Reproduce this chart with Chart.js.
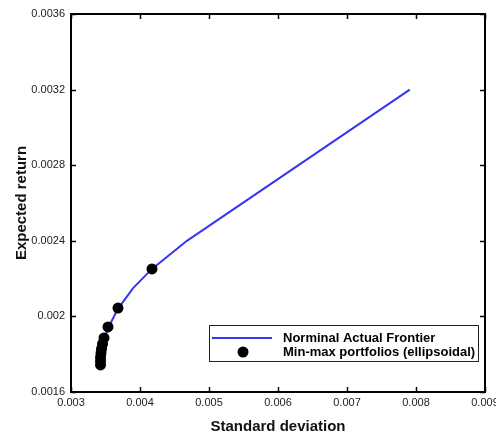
<!DOCTYPE html>
<html>
<head>
<meta charset="utf-8">
<script src="https://cdn.jsdelivr.net/npm/chart.js@4/dist/chart.umd.min.js"></script>
<style>
  html, body { margin: 0; padding: 0; background: #fff; }
  #wrap { width: 496px; height: 436px; }
</style>
</head>
<body>
<div id="wrap"><canvas id="chart"></canvas></div>
<script>
const frontierX = [0.00343, 0.00348, 0.00354, 0.00368, 0.0039, 0.00417, 0.00468, 0.00791]
const frontierY = [0.00175, 0.00188, 0.00194, 0.00204, 0.00215, 0.00225, 0.00240, 0.00320]

const minmaxX = [0.004174, 0.003681, 0.003536, 0.003478, 0.003457, 0.003442, 0.003435, 0.003428, 0.003428, 0.003428]
const minmaxY = [0.002251, 0.002044, 0.001944, 0.001886, 0.001854, 0.001828, 0.001806, 0.001785, 0.001764, 0.001743]

const xTicks = [0.003, 0.004, 0.005, 0.006, 0.007, 0.008, 0.009]
const xTickLabels = ['0.003', '0.004', '0.005', '0.006', '0.007', '0.008', '0.009']
const yTicks = [0.0016, 0.002, 0.0024, 0.0028, 0.0032, 0.0036]
const yTickLabels = ['0.0016', '0.002', '0.0024', '0.0028', '0.0032', '0.0036']

const seriesNames = ['Norminal Actual Frontier', 'Min-max portfolios (ellipsoidal)']
const lineColor = '#3535f5'

// frame + inward ticks on all four sides
const framePlugin = {
  id: 'frame',
  afterDatasetsDraw(chart) {
    const {ctx, chartArea: a, scales} = chart
    ctx.save()
    ctx.strokeStyle = '#000'
    ctx.lineWidth = 1.5
    ctx.beginPath()
    xTicks.forEach(v => {
      const px = Math.round(scales.x.getPixelForValue(v)) + 0.5
      ctx.moveTo(px, a.bottom); ctx.lineTo(px, a.bottom - 5)
      ctx.moveTo(px, a.top); ctx.lineTo(px, a.top + 5)
    })
    yTicks.forEach(v => {
      const py = Math.round(scales.y.getPixelForValue(v)) + 0.5
      ctx.moveTo(a.left, py); ctx.lineTo(a.left + 5, py)
      ctx.moveTo(a.right, py); ctx.lineTo(a.right - 5, py)
    })
    ctx.stroke()
    ctx.lineWidth = 2
    ctx.strokeRect(a.left, a.top, a.right - a.left, a.bottom - a.top)
    ctx.restore()
  }
}

// boxed legend in the lower right of the plot
const legendPlugin = {
  id: 'boxLegend',
  afterDraw(chart) {
    const {ctx, chartArea: a} = chart
    const right = a.right - 7
    const left = right - 269
    const top = a.bottom - 67
    const bottom = a.bottom - 31
    ctx.save()
    ctx.fillStyle = '#fff'
    ctx.fillRect(left, top, right - left, bottom - top)
    ctx.strokeStyle = '#222'
    ctx.lineWidth = 1
    ctx.strokeRect(left + 0.5, top + 0.5, right - left, bottom - top)

    ctx.strokeStyle = lineColor
    ctx.lineWidth = 2
    ctx.beginPath()
    ctx.moveTo(left + 3, top + 13)
    ctx.lineTo(left + 63, top + 13)
    ctx.stroke()

    ctx.fillStyle = '#000'
    ctx.beginPath()
    ctx.arc(left + 34, top + 27, 5.5, 0, Math.PI * 2)
    ctx.fill()

    ctx.font = 'bold 13px "Liberation Sans", Arial, sans-serif'
    ctx.textBaseline = 'middle'
    ctx.fillText(seriesNames[0], left + 74, top + 13)
    ctx.fillText(seriesNames[1], left + 74, top + 27)
    ctx.restore()
  }
}

const tickFont = {family: '"Liberation Sans", Arial, sans-serif', size: 11}
const titleFont = {family: '"Liberation Sans", Arial, sans-serif', size: 15, weight: 'bold'}

new Chart(document.getElementById('chart').getContext('2d'), {
  type: 'scatter',
  data: {
    datasets: [
      {
        label: seriesNames[1],
        data: minmaxX.map((x, i) => ({x: x, y: minmaxY[i]})),
        pointRadius: 5.5,
        pointBackgroundColor: '#000',
        pointBorderWidth: 0,
        showLine: false,
        order: 0
      },
      {
        label: seriesNames[0],
        data: frontierX.map((x, i) => ({x: x, y: frontierY[i]})),
        showLine: true,
        borderColor: lineColor,
        borderWidth: 2,
        pointRadius: 0,
        order: 1
      }
    ]
  },
  options: {
    responsive: true,
    maintainAspectRatio: false,
    animation: false,
    layout: {padding: {top: 14, right: 11, left: 0, bottom: 0}},
    scales: {
      x: {
        type: 'linear',
        min: 0.003,
        max: 0.009,
        grid: {display: false, drawTicks: false},
        border: {display: false},
        afterBuildTicks: s => { s.ticks = xTicks.map(v => ({value: v})) },
        afterFit: s => { s.height = 44; s.paddingLeft = 0; s.paddingRight = 0 },
        ticks: {
          font: tickFont,
          color: '#222',
          padding: 4,
          maxRotation: 0,
          autoSkip: false,
          callback: (v, i) => xTickLabels[i]
        },
        title: {display: true, text: 'Standard deviation', font: titleFont, color: '#111', padding: {top: 0, bottom: 0}}
      },
      y: {
        type: 'linear',
        min: 0.0016,
        max: 0.0036,
        grid: {display: false, drawTicks: false},
        border: {display: false},
        afterBuildTicks: s => { s.ticks = yTicks.map(v => ({value: v})) },
        afterFit: s => { s.width = 71; s.paddingTop = 0; s.paddingBottom = 0 },
        ticks: {
          font: tickFont,
          color: '#222',
          padding: 6,
          autoSkip: false,
          callback: (v, i) => yTickLabels[i]
        },
        title: {display: true, text: 'Expected return', font: titleFont, color: '#111', padding: {top: 13, bottom: 0}}
      }
    },
    plugins: {
      legend: {display: false},
      tooltip: {enabled: false}
    }
  },
  plugins: [framePlugin, legendPlugin]
})
</script>
</body>
</html>
